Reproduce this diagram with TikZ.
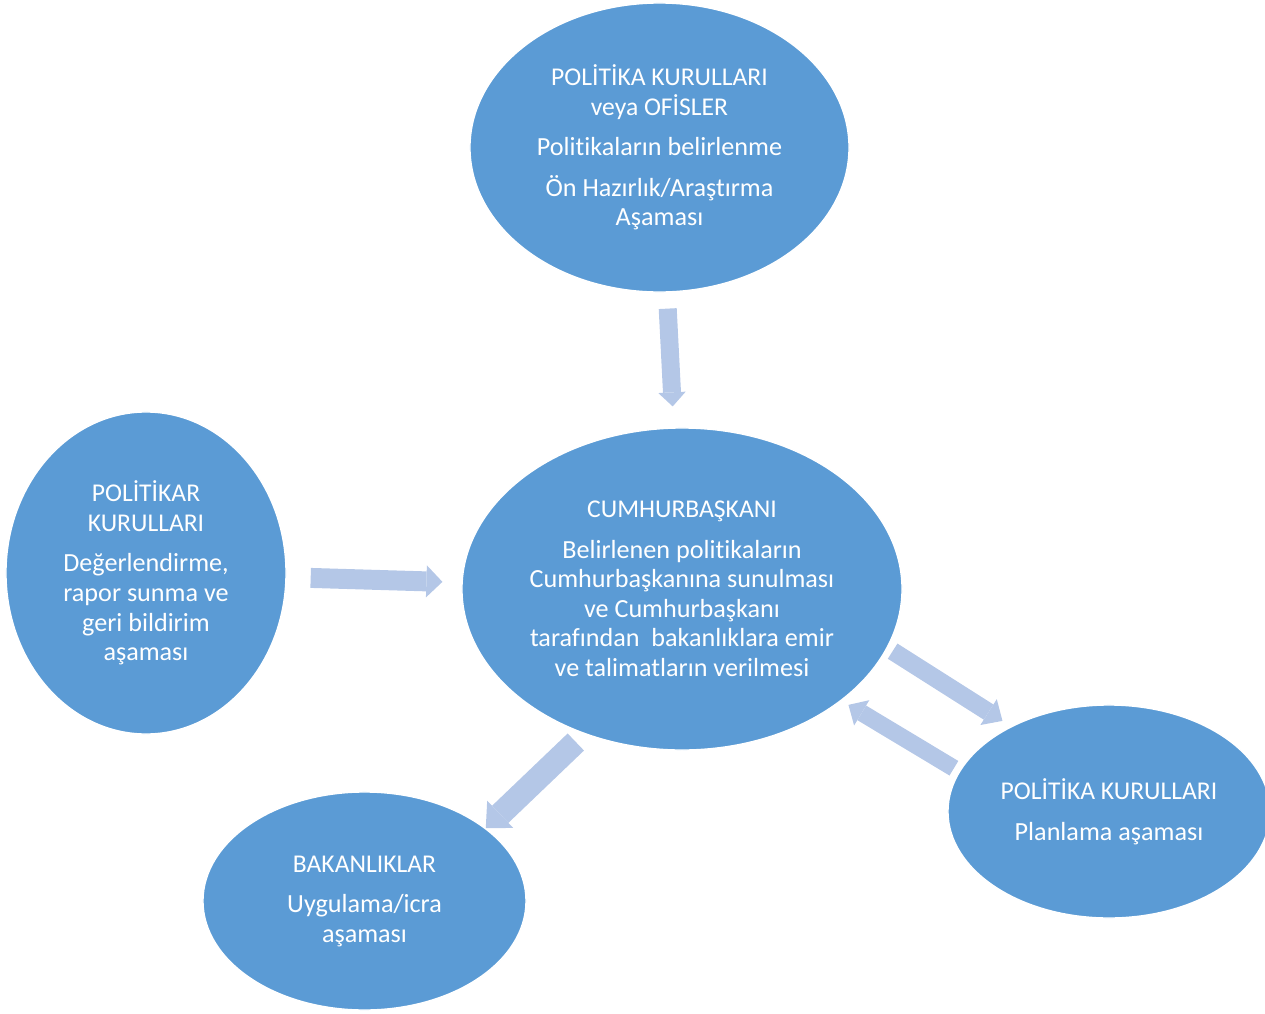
\documentclass[tikz,border=0pt]{standalone}
\usepackage{fontspec}
\setmainfont{Carlito}[Ligatures={NoCommon}]
\usetikzlibrary{shapes.geometric,arrows.meta}
\definecolor{stageblue}{HTML}{5B9BD5}
\definecolor{arrowblue}{HTML}{B4C7E7}
\newcommand{\hd}[1]{{\fontsize{18.2}{21}\selectfont #1}}

\begin{document}
\begin{tikzpicture}[x=0.025cm, y=-0.025cm,
    stage/.style={ellipse, fill=stageblue, draw=white, line width=1pt,
        text=white, align=center, inner sep=0pt,
        font=\fontsize{18.6}{21}\selectfont},
    blockarrow/.style n args={3}{draw=arrowblue, line width=#1,
        -{Triangle[width=#2, length=#3, line width=0pt]}}]

\useasboundingbox (0,0) rectangle (1265,1014);

% --- Stages ---
\node[stage, minimum width=9.475cm, minimum height=7.225cm] (kurul) at (659.5,147.5)
    {\hd{POLİTİKA KURULLARI}\\\hd{veya OFİSLER}\\[7.8pt]
     Politikaların belirlenme\\[7.8pt]
     Ön Hazırlık/Araştırma\\Aşaması};
\node[stage, minimum width=11cm, minimum height=8.05cm] (cumhur) at (682,589)
    {\hd{CUMHURBAŞKANI}\\[7.8pt]
     Belirlenen politikaların\\Cumhurbaşkanına sunulması\\ve Cumhurbaşkanı\\
     tarafından\ \ bakanlıklara emir\\ve talimatların verilmesi};
\node[stage, minimum width=7cm, minimum height=8.05cm] (deger) at (146,573)
    {\hd{POLİTİKAR}\\\hd{KURULLARI}\\[7.8pt]
     Değerlendirme,\\rapor sunma ve\\geri bildirim\\aşaması};
\node[stage, minimum width=8.075cm, minimum height=5.45cm] (bakan) at (364.5,901)
    {\hd{BAKANLIKLAR}\\[7.8pt]Uygulama/icra\\aşaması};
\node[stage, minimum width=8.05cm, minimum height=5.325cm] (plan) at (1109,811.5)
    {\hd{POLİTİKA KURULLARI}\\[7.8pt]Planlama aşaması};

% --- Block arrows ---
\draw[blockarrow={12.8pt}{19.5pt}{10pt}, shorten <=0.4cm, shorten >=0.525cm]
    (kurul) -- (cumhur);
\draw[blockarrow={14.2pt}{22.8pt}{11.4pt}, shorten <=0.6cm, shorten >=0.475cm]
    (deger) -- (cumhur);
\draw[blockarrow={12.8pt}{21.8pt}{11.7pt}, shorten <=0.15cm, shorten >=0.25cm]
    (cumhur.-16) -- (plan.139);
\draw[blockarrow={12.1pt}{21pt}{11pt}, shorten <=0.15cm, shorten >=0.2cm]
    (plan.165) -- (cumhur.-35);
\draw[blockarrow={16.8pt}{26.8pt}{14.2pt}, shorten <=0.29cm]
    (cumhur.-124) -- (bakan.31);

\end{tikzpicture}
\end{document}
